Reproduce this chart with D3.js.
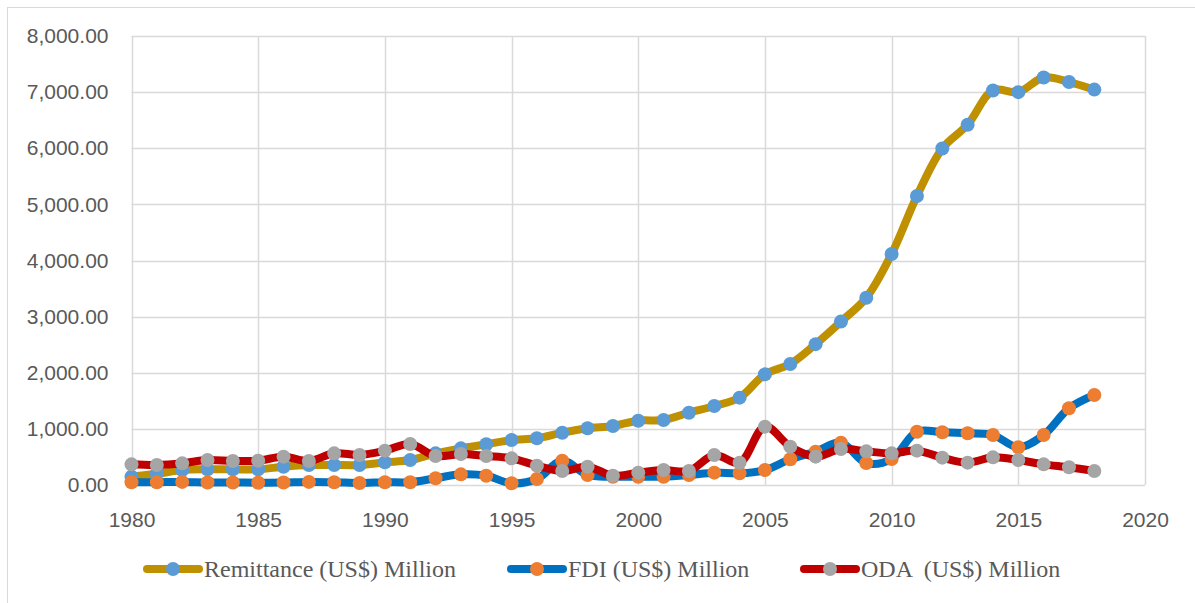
<!DOCTYPE html>
<meta charset="utf-8">
<style>
  body { margin: 0; background: #fff; }
  .tick text { font-family: "Liberation Sans", Arial, sans-serif; font-size: 21px; fill: #595959; }
  .legend text { font-family: "Liberation Serif", "Times New Roman", serif; font-size: 24px; fill: #595959; }
</style>
<svg class="chart" width="1195" height="603"></svg>
<script src="https://d3js.org/d3.v7.min.js"></script>
<script>

  var years = d3.range(1980, 2019);

  var remittance = [150, 200, 265, 280, 280, 280, 326, 356, 356, 356, 404, 445, 564, 653, 725,
                    802, 832, 932, 1010, 1051, 1146, 1158, 1288, 1407, 1556, 1972, 2156, 2510, 2911,
                    3336, 4117, 5150, 5995, 6420, 7030, 7000, 7260, 7180, 7045];
  var fdi = [50, 50, 55, 45, 45, 40, 45, 55, 50, 35, 50, 50, 120, 190, 166,
             30, 107, 433, 178, 148, 148, 148, 178, 220, 208, 267, 458, 594, 754,
             390, 463, 950, 939, 921, 891, 672, 891, 1367, 1604];
  var oda = [368, 356, 386, 445, 428, 433, 505, 428, 564, 535, 612, 731, 517, 552, 517,
             475, 345, 250, 326, 166, 220, 267, 250, 535, 398, 1040, 683, 505, 642,
             600, 564, 612, 487, 398, 493, 445, 368, 315, 250];

  var seriesNames = ["Remittance (US$) Million", "FDI (US$) Million", "ODA  (US$) Million"];
  var lineColors = ["#bf9000", "#0070c0", "#c00000"];
  var markerColors = ["#5b9bd5", "#ed7d31", "#a5a5a5"];

  var xTicks = d3.range(1980, 2021, 5);
  var yTicks = d3.range(0, 8001, 1000);

  var svg = d3.select(".chart");

  var x = d3.scaleLinear().domain([1980, 2020]).range([131.5, 1145]);
  var y = d3.scaleLinear().domain([0, 8000]).range([485, 36]);

  // outer chart border
  svg.append("rect")
      .attr("x", 7.5).attr("y", 7.5)
      .attr("width", 1200).attr("height", 620)
      .attr("fill", "none").attr("stroke", "#d9d9d9");

  // grid
  svg.append("g")
    .selectAll("line")
    .data(yTicks)
    .enter().append("line")
      .attr("x1", x(1980)).attr("x2", x(2020))
      .attr("y1", function (d) { return Math.round(y(d)) + 0.5; })
      .attr("y2", function (d) { return Math.round(y(d)) + 0.5; })
      .attr("stroke", "#d9d9d9").attr("stroke-width", 1.5);
  svg.append("g")
    .selectAll("line")
    .data(xTicks)
    .enter().append("line")
      .attr("y1", y(0)).attr("y2", y(8000))
      .attr("x1", function (d) { return Math.round(x(d)) + 0.5; })
      .attr("x2", function (d) { return Math.round(x(d)) + 0.5; })
      .attr("stroke", "#d9d9d9").attr("stroke-width", 1.5);

  // axes
  var yAxis = d3.axisLeft(y)
      .tickValues(yTicks)
      .tickSize(0)
      .tickPadding(23)
      .tickFormat(d3.format(",.2f"));
  svg.append("g")
      .attr("transform", "translate(" + x(1980) + ",0)")
      .call(yAxis)
      .call(function (g) { g.select(".domain").remove(); });

  var xAxis = d3.axisBottom(x)
      .tickValues(xTicks)
      .tickSize(0)
      .tickPadding(27)
      .tickFormat(d3.format("d"));
  svg.append("g")
      .attr("transform", "translate(0," + y(0) + ")")
      .call(xAxis)
      .call(function (g) { g.select(".domain").remove(); });

  // series
  var allSeries = [remittance, fdi, oda];
  var line = d3.line()
      .x(function (d, i) { return x(years[i]); })
      .y(function (d) { return y(d); })
      .curve(d3.curveCatmullRom.alpha(0.5));

  allSeries.forEach(function (values, k) {
    var g = svg.append("g");
    g.append("path")
        .datum(values)
        .attr("fill", "none")
        .attr("stroke", lineColors[k])
        .attr("stroke-width", 8)
        .attr("stroke-linejoin", "round")
        .attr("stroke-linecap", "round")
        .attr("d", line);
    g.selectAll("circle")
        .data(values)
        .enter().append("circle")
          .attr("cx", function (d, i) { return x(years[i]); })
          .attr("cy", function (d) { return y(d); })
          .attr("r", 7)
          .attr("fill", markerColors[k]);
  });

  // legend
  var legendX = [143, 507, 800];
  var legend = svg.append("g").attr("class", "legend");
  var items = legend.selectAll("g")
      .data(seriesNames)
      .enter().append("g")
      .attr("transform", function (d, i) { return "translate(" + legendX[i] + ",569)"; });
  items.append("line")
      .attr("x1", 4).attr("x2", 56)
      .attr("stroke", function (d, i) { return lineColors[i]; })
      .attr("stroke-width", 8)
      .attr("stroke-linecap", "round");
  items.append("circle")
      .attr("cx", 30).attr("r", 7)
      .attr("fill", function (d, i) { return markerColors[i]; });
  items.append("text")
      .attr("x", 61).attr("y", 8)
      .attr("xml:space", "preserve")
      .style("white-space", "pre")
      .text(function (d) { return d; });

</script>
